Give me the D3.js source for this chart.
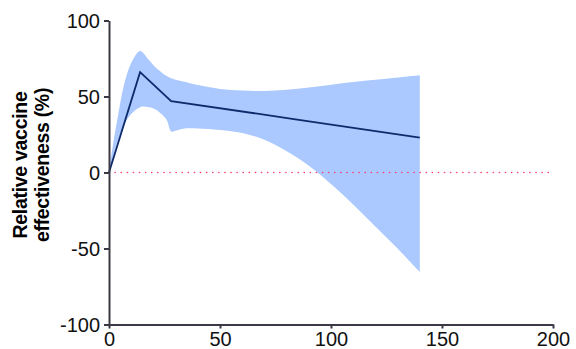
<!DOCTYPE html>
<html>
<head>
<meta charset="utf-8">
<script src="https://cdn.jsdelivr.net/npm/d3@7"></script>
<style>
    body { margin: 0; background: #fff; }
    .axis text { font-family: "Liberation Sans", Arial, Helvetica, sans-serif; font-size: 20px; fill: #111; }
    .axis path, .axis line { stroke: #3a3a44; stroke-width: 2; }
    .ylabel { font-family: "Liberation Sans", Arial, Helvetica, sans-serif; font-size: 19.5px; font-weight: bold; fill: #000; letter-spacing: -0.3px; }
</style>
</head>
<body>
<div id="container"></div>
<script>
// days since vaccination (band samples)
const bandX     = [0, 2, 4, 7, 10, 14, 18, 21, 24, 26, 28, 30, 34, 40, 50, 60, 70, 80, 90, 100, 110, 120, 130, 140];
const bandUpper = [0, 20, 37, 59, 72, 80, 74, 69, 65.5, 63.5, 62, 61, 59.7, 57.5, 55, 54, 53.6, 54.5, 56, 57.8, 59.5, 61, 62.5, 64];
const bandLower = [0, 11, 21, 32, 38.5, 43, 43, 41.5, 38, 34.5, 27, 27.5, 29, 29, 28, 26, 21.5, 14, 4.5, -7.5, -21, -35.5, -50, -65.5];

// point estimate
const lineX = [0, 14, 28, 84, 140];
const lineY = [0, 66, 47, 35, 23];

const xTicks = [0, 50, 100, 150, 200];
const yTicks = [-100, -50, 0, 50, 100];

const width = 576, height = 349;
const margin = {top: 20.5, right: 23, bottom: 24.5, left: 109};

const svg = d3.select("#container")
    .append("svg")
    .attr("width", width)
    .attr("height", height);

const x = d3.scaleLinear().domain([0, 200]).range([margin.left, width - margin.right]);
const y = d3.scaleLinear().domain([-100, 100]).range([height - margin.bottom, margin.top]);

// confidence band
const area = d3.area()
    .x((d, i) => x(bandX[i]))
    .y0((d, i) => y(bandLower[i]))
    .y1((d, i) => y(bandUpper[i]))
    .curve(d3.curveCatmullRom.alpha(0.5));

svg.append("path")
    .datum(bandX)
    .attr("d", area)
    .attr("fill", "#abc9ff");

// zero reference
svg.append("line")
    .attr("x1", x(0))
    .attr("x2", x(200))
    .attr("y1", y(0))
    .attr("y2", y(0))
    .attr("stroke", "#ff3b6b")
    .attr("stroke-width", 1.6)
    .attr("stroke-linecap", "round")
    .attr("stroke-dasharray", "0.1,6");

const line = d3.line()
    .x((d, i) => x(lineX[i]))
    .y((d, i) => y(lineY[i]));

svg.append("path")
    .datum(lineX)
    .attr("d", line)
    .attr("fill", "none")
    .attr("stroke", "#0d2a6b")
    .attr("stroke-width", 1.8);

// axes
svg.append("g")
    .attr("class", "axis")
    .attr("transform", `translate(0,${y(-100)})`)
    .call(d3.axisBottom(x).tickValues(xTicks).tickSize(4).tickSizeOuter(0).tickPadding(3)
        .tickFormat(d => String(d)));

svg.append("g")
    .attr("class", "axis")
    .attr("transform", `translate(${x(0)},0)`)
    .call(d3.axisLeft(y).tickValues(yTicks).tickSize(5).tickSizeOuter(0).tickPadding(4)
        .tickFormat(d => String(d)))
    .selectAll("text").attr("dy", "0.36em");

const label = svg.append("text")
    .attr("class", "ylabel")
    .attr("transform", `translate(27,165) rotate(-90)`)
    .attr("text-anchor", "middle");

label.append("tspan").attr("x", 0).attr("dy", 0).text("Relative vaccine");
label.append("tspan").attr("x", 0).attr("dy", "1.13em").text("effectiveness (%)");
</script>
</body>
</html>
